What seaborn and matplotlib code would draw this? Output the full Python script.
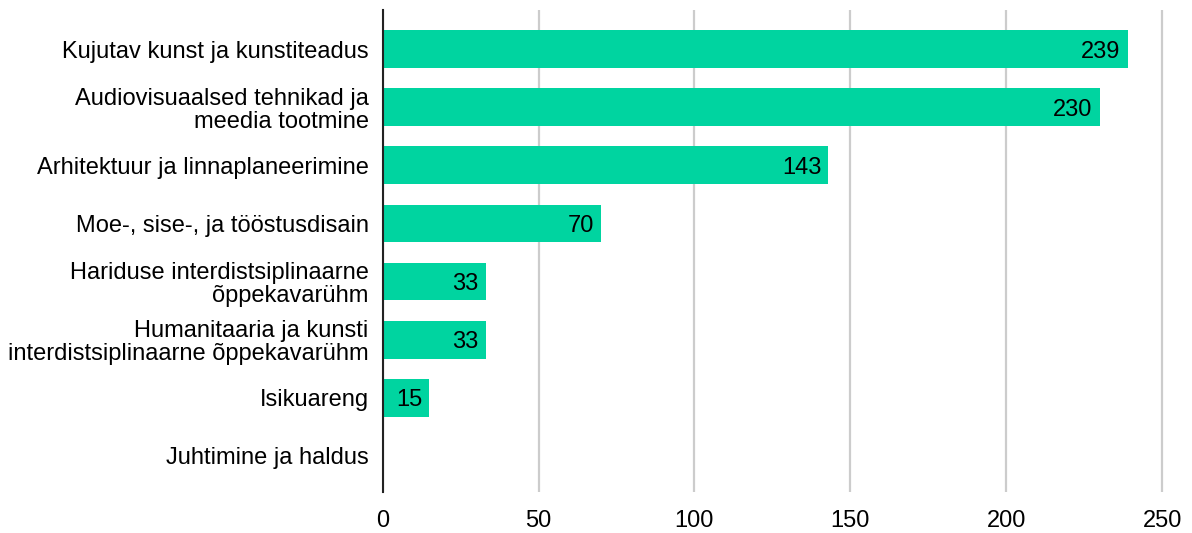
import matplotlib
matplotlib.use("Agg")
import matplotlib.pyplot as plt
import pandas as pd
import seaborn as sns

categories = [
    "Kujutav kunst ja kunstiteadus",
    "Audiovisuaalsed tehnikad ja\nmeedia tootmine",
    "Arhitektuur ja linnaplaneerimine",
    "Moe-, sise-, ja tööstusdisain",
    "Hariduse interdistsiplinaarne\nõppekavarühm",
    "Humanitaaria ja kunsti\ninterdistsiplinaarne õppekavarühm",
    "Isikuareng",
    "Juhtimine ja haldus",
]
values = [239, 230, 143, 70, 33, 33, 15, 0]
x_ticks = [0, 50, 100, 150, 200, 250]

BAR_COLOR = "#00d4a0"
FS = 17

sns.set_theme(style="white")
plt.rcParams["font.family"] = ["Liberation Sans", "DejaVu Sans"]

df = pd.DataFrame({"category": categories, "value": values})

fig = plt.figure(figsize=(11.92, 5.33), dpi=100)
ax = fig.add_axes([0.321, 0.077, 0.667, 0.904])

sns.barplot(data=df, x="value", y="category", orient="h", color=BAR_COLOR,
            width=0.65, saturation=1, linewidth=0, ax=ax, zorder=3)

for i, v in enumerate(values):
    if v > 0:
        ax.text(v - 2.3, i, str(v), ha="right", va="center_baseline",
                fontsize=FS, color="black", zorder=4)

ax.set_xlim(0, 255)
ax.set_ylim(7.62, -0.67)
ax.set_xticks(x_ticks)
ax.xaxis.grid(True, color="#cccccc", linewidth=1.6, zorder=0)
ax.set_axisbelow(True)
for side in ["top", "right", "bottom"]:
    ax.spines[side].set_visible(False)
ax.spines["left"].set_color("#222222")
ax.spines["left"].set_linewidth(1.5)
ax.spines["left"].set_zorder(5)
ax.set_xlabel("")
ax.set_ylabel("")
ax.tick_params(axis="both", length=0, labelsize=FS, colors="black")
ax.tick_params(axis="y", pad=10)
ax.tick_params(axis="x", pad=13)
for lbl in ax.get_yticklabels():
    lbl.set_linespacing(1.05)

fig.savefig("out.png", dpi=100)
